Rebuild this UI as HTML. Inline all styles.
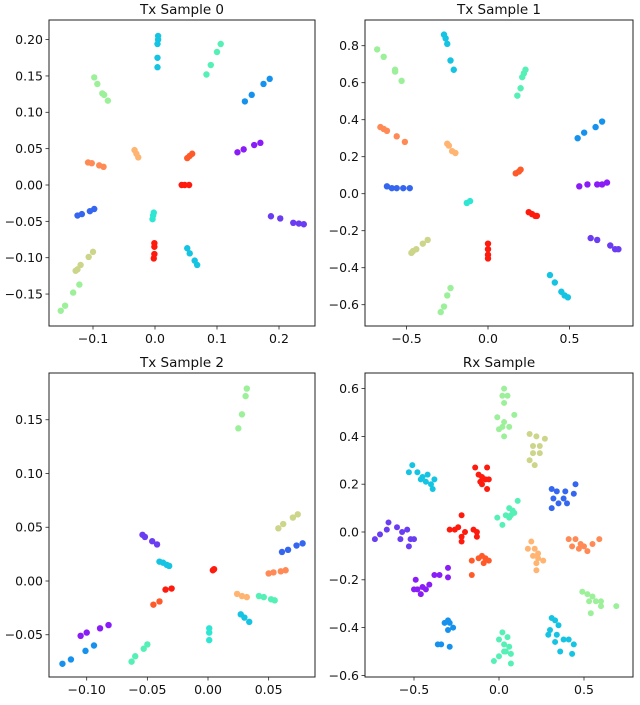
<!DOCTYPE html>
<html><head><meta charset="utf-8"><style>
html,body{margin:0;padding:0;background:#fff;}
svg{display:block;font-family:"DejaVu Sans","Liberation Sans",sans-serif;}
</style></head><body>
<svg id="fig" width="640" height="705" viewBox="0 0 640 705" xmlns="http://www.w3.org/2000/svg"></svg>
<script>
const COL={red:'#ff1a0e',ored:'#ff5a2a',orange:'#ff8a55',lorange:'#ffb472',olive:'#cdd58a',lgreen:'#9cf09a',aqua:'#55f0b6',turq:'#2ee6d2',cyan:'#14c4e2',azure:'#1692ee',blue:'#3466f0',indigo:'#6a3cf2',purple:'#8a1cf8'};

const tx0Colors=['cyan','aqua','azure','purple','indigo','cyan','red','olive','lgreen','blue','orange','lorange','ored','red','turq','lgreen'];
const tx0X=[[0.005,0.005,0.004,0.004,0.004],[0.106,0.1,0.09,0.083],[0.185,0.175,0.156,0.145],[0.17,0.16,0.143,0.133],[0.187,0.202,0.223,0.232,0.24],[0.052,0.056,0.064,0.068],[-0.001,-0.001,-0.001,-0.002],[-0.1,-0.107,-0.12,-0.125,-0.128],[-0.122,-0.132,-0.145,-0.152],[-0.098,-0.105,-0.118,-0.125],[-0.108,-0.102,-0.09,-0.083],[-0.033,-0.03,-0.027],[0.06,0.056,0.052],[0.043,0.048,0.055],[-0.002,-0.003,-0.004],[-0.098,-0.093,-0.085,-0.082,-0.076]];
const tx0Y=[[0.205,0.2,0.194,0.175,0.162],[0.194,0.183,0.165,0.152],[0.146,0.139,0.124,0.115],[0.058,0.055,0.049,0.045],[-0.043,-0.046,-0.052,-0.053,-0.054],[-0.087,-0.094,-0.104,-0.11],[-0.08,-0.085,-0.095,-0.101],[-0.092,-0.099,-0.11,-0.116,-0.118],[-0.137,-0.148,-0.166,-0.173],[-0.033,-0.036,-0.04,-0.042],[0.031,0.03,0.027,0.025],[0.048,0.043,0.038],[0.043,0.04,0.037],[0,0,0],[-0.038,-0.042,-0.047],[0.148,0.139,0.126,0.124,0.116]];

const tx1Colors=['cyan','lgreen','aqua','azure','orange','lorange','ored','blue','purple','turq','red','indigo','olive','red','cyan','lgreen'];
const tx1X=[[-0.27,-0.26,-0.25,-0.23,-0.21],[-0.68,-0.64,-0.57,-0.57,-0.53],[0.23,0.22,0.21,0.2,0.18],[0.7,0.66,0.59,0.55],[-0.66,-0.64,-0.62,-0.56,-0.51],[-0.25,-0.24,-0.22,-0.2],[0.2,0.19,0.17],[-0.62,-0.59,-0.56,-0.52,-0.48],[0.56,0.61,0.67,0.7,0.73],[-0.13,-0.11],[0.25,0.27,0.29,0.3],[0.63,0.67,0.75,0.78,0.8],[-0.37,-0.4,-0.44,-0.46,-0.47],[0,0,0,0],[0.38,0.41,0.45,0.47,0.49],[-0.23,-0.25,-0.27,-0.29]];
const tx1Y=[[0.86,0.84,0.81,0.72,0.67],[0.78,0.74,0.67,0.66,0.61],[0.67,0.65,0.63,0.57,0.53],[0.39,0.36,0.33,0.3],[0.36,0.35,0.34,0.31,0.28],[0.27,0.26,0.23,0.22],[0.13,0.12,0.11],[0.04,0.03,0.03,0.03,0.03],[0.04,0.05,0.05,0.05,0.06],[-0.05,-0.04],[-0.1,-0.11,-0.12,-0.12],[-0.24,-0.25,-0.28,-0.3,-0.3],[-0.25,-0.27,-0.3,-0.31,-0.32],[-0.27,-0.3,-0.33,-0.35],[-0.44,-0.48,-0.53,-0.55,-0.56],[-0.51,-0.55,-0.61,-0.64]];

const tx2Colors=['lgreen','olive','blue','orange','red','lorange','aqua','cyan','turq','indigo','cyan','red','ored','purple','azure','aqua'];
const tx2X=[[0.032,0.031,0.028,0.025],[0.074,0.07,0.062,0.058],[0.078,0.073,0.066,0.061],[0.064,0.06,0.054,0.05],[0.005,0.004],[0.024,0.028,0.032],[0.042,0.046,0.052,0.055],[0.027,0.03,0.034],[0.001,0.001,0.001],[-0.054,-0.052,-0.046,-0.042],[-0.04,-0.037,-0.034,-0.032],[-0.035,-0.03],[-0.045,-0.04],[-0.105,-0.1,-0.089,-0.082],[-0.12,-0.113,-0.101,-0.094],[-0.063,-0.06,-0.053,-0.05]];
const tx2Y=[[0.179,0.172,0.155,0.142],[0.062,0.059,0.053,0.049],[0.035,0.033,0.029,0.027],[0.01,0.009,0.008,0.007],[0.011,0.01],[-0.012,-0.014,-0.015],[-0.014,-0.015,-0.017,-0.018],[-0.031,-0.034,-0.038],[-0.044,-0.048,-0.055],[0.043,0.041,0.037,0.034],[0.018,0.017,0.015,0.014],[-0.008,-0.007],[-0.022,-0.019],[-0.051,-0.048,-0.044,-0.041],[-0.077,-0.073,-0.065,-0.06],[-0.075,-0.07,-0.063,-0.059]];

const rxColors=['lgreen','olive','cyan','red','blue','aqua','indigo','red','lorange','orange','ored','purple','lgreen','azure','aqua','cyan'];
const rxX=[[0.03,0.02,0.05,0.03,0.09,-0.01,0.03,0.02,0.06,0.0,0.03],[0.18,0.22,0.27,0.2,0.24,0.2,0.24,0.18,0.21],[-0.51,-0.53,-0.48,-0.45,-0.42,-0.38,-0.43,-0.4,-0.39,-0.46],[-0.14,-0.07,-0.12,-0.1,-0.08,-0.11,-0.06,-0.1,-0.07],[0.31,0.34,0.45,0.39,0.44,0.32,0.38,0.35,0.4,0.31],[0.11,0.06,0.08,0.04,0.06,-0.01,0.02,0.07,0.09],[-0.73,-0.7,-0.65,-0.66,-0.6,-0.58,-0.57,-0.54,-0.52,-0.5,-0.53],[-0.22,-0.26,-0.29,-0.24,-0.22,-0.2,-0.15,-0.13,-0.13,-0.22],[0.19,0.17,0.21,0.23,0.2,0.23,0.26,0.22,0.22],[0.41,0.45,0.48,0.43,0.5,0.55,0.59,0.52,0.47],[-0.1,-0.16,-0.12,-0.08,-0.06,-0.09,-0.16],[-0.3,-0.35,-0.38,-0.49,-0.41,-0.45,-0.48,-0.5,-0.46,-0.43,-0.3],[0.49,0.52,0.55,0.53,0.57,0.6,0.6,0.69,0.54],[-0.3,-0.32,-0.29,-0.27,-0.3,-0.36,-0.34,-0.29],[0.02,0.05,0.0,0.03,0.06,0.04,0.07,0.0,-0.03,0.07,0.03],[0.31,0.33,0.35,0.3,0.34,0.29,0.33,0.38,0.41,0.44,0.36,0.43]];
const rxY=[[0.6,0.57,0.57,0.54,0.49,0.48,0.46,0.44,0.44,0.43,0.4],[0.41,0.4,0.39,0.36,0.36,0.33,0.33,0.3,0.28],[0.28,0.25,0.25,0.23,0.24,0.22,0.21,0.2,0.18,0.22],[0.27,0.27,0.24,0.23,0.22,0.21,0.22,0.2,0.18],[0.18,0.17,0.2,0.17,0.16,0.14,0.14,0.12,0.12,0.1],[0.13,0.1,0.09,0.07,0.06,0.06,0.03,0.07,0.08],[-0.03,-0.01,0.04,0.01,0.02,-0.03,0.0,0.01,-0.03,-0.03,-0.06],[0.07,0.01,0.01,0.02,-0.02,0.0,0.01,0.0,-0.02,-0.04],[-0.04,-0.07,-0.07,-0.09,-0.1,-0.11,-0.12,-0.13,-0.16],[-0.03,-0.03,-0.05,-0.06,-0.06,-0.05,-0.03,-0.08,-0.07],[-0.1,-0.12,-0.11,-0.11,-0.12,-0.13,-0.18],[-0.15,-0.18,-0.18,-0.2,-0.22,-0.23,-0.24,-0.24,-0.26,-0.24,-0.19],[-0.25,-0.26,-0.27,-0.29,-0.29,-0.29,-0.31,-0.31,-0.34],[-0.37,-0.38,-0.38,-0.4,-0.41,-0.47,-0.47,-0.48],[-0.42,-0.44,-0.45,-0.47,-0.48,-0.5,-0.51,-0.52,-0.54,-0.55,-0.5],[-0.36,-0.37,-0.39,-0.41,-0.43,-0.43,-0.46,-0.45,-0.45,-0.47,-0.5,-0.51]];

const tx0XT=[-0.1,0.0,0.1,0.2], tx0XL=['\u22120.1','0.0','0.1','0.2'];
const tx0YT=[0.2,0.15,0.1,0.05,0,-0.05,-0.1,-0.15], tx0YL=['0.20','0.15','0.10','0.05','0.00','\u22120.05','\u22120.10','\u22120.15'];
const tx1XT=[-0.5,0,0.5], tx1XL=['\u22120.5','0.0','0.5'];
const tx1YT=[0.8,0.6,0.4,0.2,0,-0.2,-0.4,-0.6], tx1YL=['0.8','0.6','0.4','0.2','0.0','\u22120.2','\u22120.4','\u22120.6'];
const tx2XT=[-0.1,-0.05,0,0.05], tx2XL=['\u22120.10','\u22120.05','0.00','0.05'];
const tx2YT=[0.15,0.1,0.05,0,-0.05], tx2YL=['0.15','0.10','0.05','0.00','\u22120.05'];
const rxXT=[-0.5,0,0.5], rxXL=['\u22120.5','0.0','0.5'];
const rxYT=[0.6,0.4,0.2,0,-0.2,-0.4,-0.6], rxYL=['0.6','0.4','0.2','0.0','\u22120.2','\u22120.4','\u22120.6'];

const NS='http://www.w3.org/2000/svg';
const svg=document.getElementById('fig');
function mk(tag,attrs,parent){const e=document.createElementNS(NS,tag);for(const k in attrs)e.setAttribute(k,attrs[k]);(parent||svg).appendChild(e);return e;}

function panel(cfg){
  const g=mk('g',{});
  
  
  const sx=v=>cfg.x0px+(v-cfg.x0v)*cfg.kx;
  const sy=v=>cfg.y0px-(v-cfg.y0v)*cfg.ky;
  const t=mk('text',{x:(cfg.L+cfg.R)/2,y:cfg.T-6,'text-anchor':'middle','font-size':'13.5',fill:'#111'},g);
  t.textContent=cfg.title;
  
  
  cfg.xt.forEach((v,i)=>{
    const x=sx(v);
    mk('line',{x1:x,x2:x,y1:cfg.B,y2:cfg.B+3.5,stroke:'#222','stroke-width':0.8},g);
    const l=mk('text',{x:x,y:cfg.B+17,'text-anchor':'middle','font-size':'12.5',fill:'#111'},g);
    l.textContent=cfg.xl[i];
    
    
  });
  cfg.yt.forEach((v,i)=>{
    const y=sy(v);
    mk('line',{x1:cfg.L-3.5,x2:cfg.L,y1:y,y2:y,stroke:'#222','stroke-width':0.8},g);
    const l=mk('text',{x:cfg.L-6,y:y+4.4,'text-anchor':'end','font-size':'12.5',fill:'#111'},g);
    l.textContent=cfg.yl[i];
    
    
  });
  cfg.X.forEach((xs,ci)=>{
    xs.forEach((xv,pi)=>{
      const c=mk('circle',{cx:sx(xv),cy:sy(cfg.Y[ci][pi]),r:cfg.r,fill:COL[cfg.C[ci]]},g);
      
      
    });
  });
  const f=mk('rect',{x:cfg.L,y:cfg.T,width:cfg.R-cfg.L,height:cfg.B-cfg.T,fill:'none',stroke:'#222','stroke-width':1},g);
  
  
}

panel({name:'tx-sample-0-plot',title:'Tx Sample 0',L:49,R:315,T:20,B:326,x0v:0,x0px:155,kx:620,y0v:0,y0px:185,ky:727,xt:tx0XT,xl:tx0XL,yt:tx0YT,yl:tx0YL,X:tx0X,Y:tx0Y,C:tx0Colors,r:3.2});
panel({name:'tx-sample-1-plot',title:'Tx Sample 1',L:365,R:633,T:20,B:326,x0v:0,x0px:488,kx:163,y0v:0,y0px:193.7,ky:185,xt:tx1XT,xl:tx1XL,yt:tx1YT,yl:tx1YL,X:tx1X,Y:tx1Y,C:tx1Colors,r:3.2});
panel({name:'tx-sample-2-plot',title:'Tx Sample 2',L:49,R:315,T:373,B:677,x0v:0,x0px:208,kx:1213,y0v:0,y0px:581,ky:1075,xt:tx2XT,xl:tx2XL,yt:tx2YT,yl:tx2YL,X:tx2X,Y:tx2Y,C:tx2Colors,r:3.2});
panel({name:'rx-sample-plot',title:'Rx Sample',L:365,R:633,T:373,B:677,x0v:0,x0px:499,kx:170,y0v:0,y0px:532,ky:239,xt:rxXT,xl:rxXL,yt:rxYT,yl:rxYL,X:rxX,Y:rxY,C:rxColors,r:3});
</script>
</body></html>
